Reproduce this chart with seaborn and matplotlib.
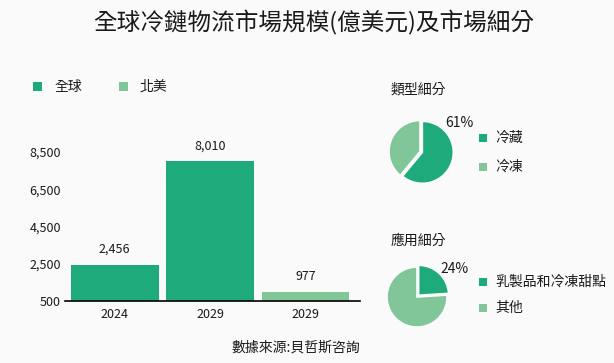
import matplotlib
matplotlib.use("Agg")
import matplotlib.pyplot as plt
import seaborn as sns
import pandas as pd
from matplotlib.patches import Rectangle

# ---------------- data ----------------
title = "全球冷鏈物流市場規模(億美元)及市場細分"
bar_years = ["2024", "2029", "2029"]
bar_series = ["全球", "全球", "北美"]
bar_values = [2456, 8010, 977]
y_ticks = [500, 2500, 4500, 6500, 8500]
series_names = ["全球", "北美"]

type_title = "類型細分"
type_labels = ["冷藏", "冷凍"]
type_values = [61, 39]

app_title = "應用細分"
app_labels = ["乳製品和冷凍甜點", "其他"]
app_values = [24, 76]

source_text = "數據來源:貝哲斯咨詢"

# ---------------- style ----------------
DARK = "#1FAA7B"
LIGHT = "#80C699"
BG = "#FAFAFA"
TXT = "#1a1a1a"

sns.set_theme(style="white")
plt.rcParams['font.family'] = ['Noto Sans CJK TC', 'DejaVu Sans']

W, H = 614, 363
fig = plt.figure(figsize=(W / 100, H / 100), dpi=100, facecolor=BG)


def px(x0, y0, x1, y1):
    return [x0 / W, 1 - y1 / H, (x1 - x0) / W, (y1 - y0) / H]


def square(cx, cy, size, color):
    fig.patches.append(Rectangle(((cx - size / 2) / W, 1 - (cy + size / 2) / H),
                                 size / W, size / H, transform=fig.transFigure,
                                 facecolor=color, edgecolor="none"))


# title
fig.text(314 / W, 1 - 23 / H, title, ha="center", va="center", fontsize=17, color=TXT)

# main legend
square(37.5, 86.5, 9, DARK)
fig.text(55 / W, 1 - 86.5 / H, series_names[0], ha="left", va="center", fontsize=10, color=TXT)
square(123.5, 86.5, 9, LIGHT)
fig.text(140 / W, 1 - 86.5 / H, series_names[1], ha="left", va="center", fontsize=10, color=TXT)

# ---------------- bar chart ----------------
ax = fig.add_axes(px(65, 152, 360, 301))
ax.set_facecolor(BG)
df = pd.DataFrame({"pos": list(range(len(bar_values))), "value": bar_values, "series": bar_series})
sns.barplot(data=df, x="pos", y="value", hue="series", hue_order=series_names,
            palette=[DARK, LIGHT], dodge=False, width=0.92, legend=False, ax=ax,
            saturation=1, edgecolor="none")
ax.set_ylim(y_ticks[0], y_ticks[-1])
ax.set_xlim(-0.52, 2.57)
ax.set_yticks(y_ticks)
ax.set_yticklabels([f"{v:,}" for v in y_ticks])
ax.set_xticks(range(len(bar_years)))
ax.set_xticklabels(bar_years)
ax.set_xlabel("")
ax.set_ylabel("")
for s in ["left", "top", "right"]:
    ax.spines[s].set_visible(False)
ax.spines["bottom"].set_color("black")
ax.spines["bottom"].set_linewidth(1.2)
ax.tick_params(axis="both", length=0, labelsize=9, colors=TXT)
ax.tick_params(axis="x", pad=5)
ax.tick_params(axis="y", pad=3)
for i, v in enumerate(bar_values):
    ax.annotate(f"{v:,}", (i, v), xytext=(0, 11), textcoords="offset points",
                ha="center", va="center", fontsize=9, color=TXT, annotation_clip=False)

fig.text(360 / W, 1 - 348 / H, source_text, ha="right", va="center", fontsize=10, color=TXT)


# ---------------- pies ----------------
def pie(cx, cy, r, values, labels, head, head_y, leg_y):
    k = 1.35
    pa = fig.add_axes(px(cx - k * r, cy - k * r, cx + k * r, cy + k * r))
    pa.set_facecolor("none")
    pa.pie(values, colors=[DARK, LIGHT], startangle=90, counterclock=False,
           explode=[0.08, 0], radius=1,
           wedgeprops=dict(edgecolor=BG, linewidth=1.2))
    pa.set_xlim(-k, k)
    pa.set_ylim(-k, k)
    pa.set_aspect("equal")
    pa.axis("off")
    pa.text(1.26, 0.93, f"{values[0]}%", ha="center", va="center", fontsize=10,
            color=TXT, clip_on=False)
    fig.text(391 / W, 1 - head_y / H, head, ha="left", va="center", fontsize=10, color=TXT)
    for yy, lab, col in zip(leg_y, labels, [DARK, LIGHT]):
        square(483, yy, 8, col)
        fig.text(495 / W, 1 - yy / H, lab, ha="left", va="center", fontsize=10, color=TXT)


pie(420, 151.5, 31, type_values, type_labels, type_title, 89, [138, 167])
pie(417, 297, 30, app_values, app_labels, app_title, 241, [282, 308])

fig.savefig("out.png", dpi=100, facecolor=BG)
